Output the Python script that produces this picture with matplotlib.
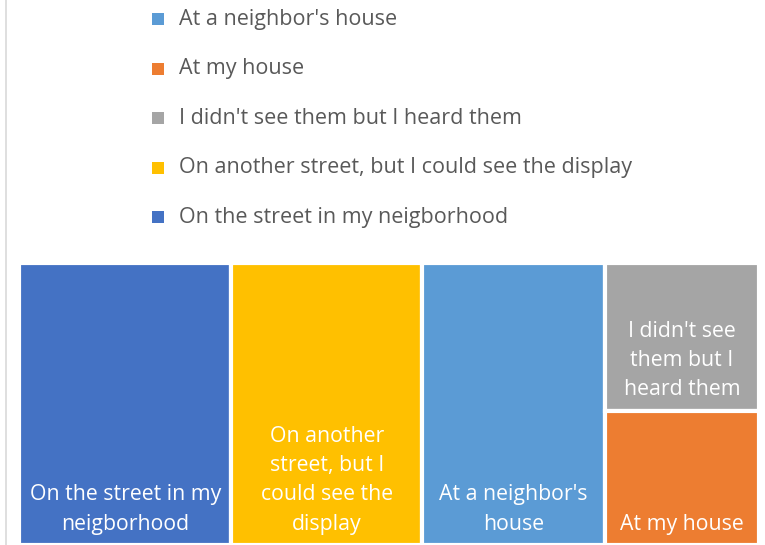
import matplotlib.pyplot as plt
from matplotlib.patches import Rectangle

plt.rcParams['font.family'] = ['Open Sans', 'DejaVu Sans']

# categories (legend order is alphabetical, as in the source chart)
legend_labels = ["At a neighbor's house", "At my house", "I didn't see them but I heard them",
                 "On another street, but I could see the display", "On the street in my neigborhood"]
legend_colors = ['#5B9BD5', '#ED7D31', '#A5A5A5', '#FFC000', '#4472C4']

# treemap tiles in layout order: (label shown in the tile, value, colour)
tile_labels = ["On the street in my\nneigborhood", "On another\nstreet, but I\ncould see the\ndisplay",
               "At a neighbor's\nhouse", "I didn't see\nthem but I\nheard them", "At my house"]
tile_values = [29, 26, 25, 11, 10]
tile_colors = ['#4472C4', '#FFC000', '#5B9BD5', '#A5A5A5', '#ED7D31']
# first three tiles take a full column each, the last two share one column
column_groups = [[0], [1], [2], [3, 4]]

W, H = 765, 545
fig = plt.figure(figsize=(W / 100, H / 100), dpi=100)

# thin chart border on the left
fig.add_artist(plt.Line2D([5.5 / W, 5.5 / W], [0, 1], color='#D9D9D9', lw=1.2))

# legend
lax = fig.add_axes([0, 0, 1, 1])
lax.set_xlim(0, W)
lax.set_ylim(H, 0)
lax.axis('off')
for i, (lab, col) in enumerate(zip(legend_labels, legend_colors)):
    y = 19 + i * 49.5
    lax.add_patch(Rectangle((152, y - 6), 12, 12, color=col, lw=0))
    lax.text(179, y, lab, fontsize=15.5, color='#595959', va='center', ha='left')

# treemap (slice and dice)
tax = fig.add_axes([19 / W, 0, 740 / W, 282 / H])
tax.set_xlim(0, 1)
tax.set_ylim(1, 0)
tax.axis('off')
total = sum(tile_values)
x0 = 0
for group in column_groups:
    col_sum = sum(tile_values[k] for k in group)
    w = col_sum / total
    y0 = 0
    for k in group:
        h = tile_values[k] / col_sum
        tax.add_patch(Rectangle((x0, y0), w, h, facecolor=tile_colors[k],
                                edgecolor='white', lw=3))
        tax.annotate(tile_labels[k], (x0 + w / 2, y0 + h), xytext=(0, 7.5),
                     textcoords='offset points', ha='center', va='bottom',
                     color='white', fontsize=15.3, linespacing=1.52)
        y0 += h
    x0 += w

fig.savefig('out.png', dpi=100)
